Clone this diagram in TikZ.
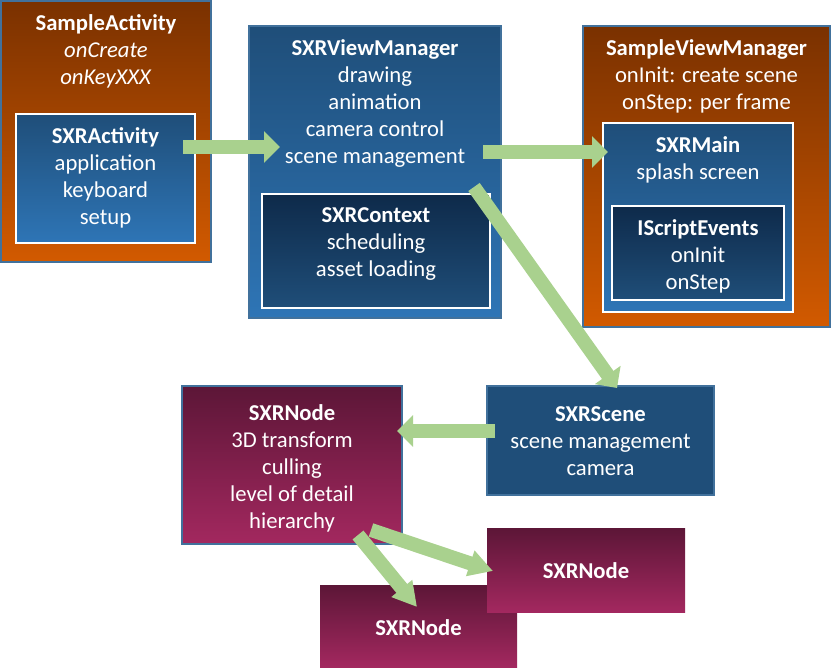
\documentclass[tikz,border=0pt]{standalone}
\usepackage{fontspec}
\setmainfont{Carlito}
\usetikzlibrary{arrows.meta,positioning,fit}
\definecolor{edgeblue}{HTML}{41719C}
\definecolor{arrowgreen}{HTML}{A9D18E}
\definecolor{orangetop}{HTML}{7A3100}
\definecolor{orangebot}{HTML}{D25A00}
\definecolor{bluetop}{HTML}{1F4E79}
\definecolor{bluebot}{HTML}{2E75B6}
\definecolor{navytop}{HTML}{0E2A4A}
\definecolor{navybot}{HTML}{1F4E79}
\definecolor{purpletop}{HTML}{5C1637}
\definecolor{purplebot}{HTML}{A3285F}
\begin{document}
\begin{tikzpicture}[x=.75pt,y=-.75pt,
  box/.style={inner sep=0pt,outer sep=0pt,line width=1.5pt},
  outerbox/.style={box,draw=edgeblue},
  innerbox/.style={box,draw=white},
  orangefill/.style={top color=orangetop,bottom color=orangebot},
  bluefill/.style={top color=bluetop,bottom color=bluebot},
  navyfill/.style={top color=navytop,bottom color=navybot},
  purplefill/.style={top color=purpletop,bottom color=purplebot},
  lbl/.style={text=white,align=center,inner sep=0pt,font=\fontsize{17pt}{20.25pt}\selectfont,
    execute at begin node=\strut},
  bigarrow/.style={draw=arrowgreen,line width=10.5pt,-{Triangle[length=12pt,width=23pt]}},
  longarrow/.style={draw=arrowgreen,line width=10.5pt,-{Triangle[length=18pt,width=19pt]}}]
\useasboundingbox (0,0) rectangle (831,670);
\node[outerbox,orangefill,fit={(1,1) (211,262)}] (sampleact) {};
\node[lbl,below=10.2pt of sampleact.north] (sampleacttxt) {\textbf{SampleActivity}\\\textit{onCreate}\\\textit{onKeyXXX}};
\node[innerbox,bluefill,fit={(16,114) (195,243)}] (sxract) {};
\node[lbl,below=10.2pt of sxract.north] (sxracttxt) {\textbf{SXRActivity}\\application\\keyboard\\setup};
\node[outerbox,bluefill,fit={(249,26) (501,318)}] (viewmgr) {};
\node[lbl,below=10.2pt of viewmgr.north] (viewmgrtxt) {\textbf{SXRViewManager}\\drawing\\animation\\camera control\\scene management};
\node[innerbox,navyfill,fit={(262,194) (490,308)}] (context) {};
\node[lbl,below=10.2pt of context.north] (contexttxt) {\textbf{SXRContext}\\scheduling\\asset loading};
\node[outerbox,orangefill,fit={(583,26) (830,327)}] (sampleview) {};
\node[lbl,below=10.2pt of sampleview.north] (sampleviewtxt) {\textbf{SampleViewManager}\\onInit: create scene\\onStep: per frame};
\node[innerbox,bluefill,fit={(603,123) (793,312)}] (sxrmain) {};
\node[lbl,below=10.2pt of sxrmain.north] (sxrmaintxt) {\textbf{SXRMain}\\splash screen};
\node[innerbox,navyfill,fit={(612,206) (784,300)}] (scriptev) {};
\node[lbl,below=10.2pt of scriptev.north] (scriptevtxt) {\textbf{IScriptEvents}\\onInit\\onStep};
\node[outerbox,fill=bluetop,fit={(487,386) (714,495)}] (scene) {};
\node[lbl,below=15.2pt of scene.north] (scenetxt) {\textbf{SXRScene}\\scene management\\camera};
\node[outerbox,purplefill,fit={(182,386) (402,544)}] (node) {};
\node[lbl,below=13.6pt of node.north] (nodetxt) {\textbf{SXRNode}\\3D transform\\culling\\level of detail\\hierarchy};
\node[box,purplefill,fit={(320,585) (517,667)}] (nodeA) {};
\node[lbl,below=23.8pt of nodeA.north] (nodeAtxt) {\textbf{SXRNode}};
\node[box,purplefill,fit={(487,528) (685,612)}] (nodeB) {};
\node[lbl,below=23.8pt of nodeB.north] (nodeBtxt) {\textbf{SXRNode}};
\draw[bigarrow] ([shift={(-12,33)}]sxract.north east) -- ([shift={(31,121)}]viewmgr.north west);
\draw[bigarrow] ([shift={(-18,126)}]viewmgr.north east) -- ([shift={(5,29)}]sxrmain.north west);
\draw[bigarrow] ([shift={(-27,161)}]viewmgr.north east) -- ([shift={(130,2)}]scene.north west);
\draw[bigarrow] ([shift={(8,45)}]scene.north west) -- ([shift={(-5,45)}]node.north east);
\draw[longarrow] ([shift={(176,-9)}]node.south west) -- ([shift={(97,22)}]nodeA.north west);
\draw[longarrow] ([shift={(189,-14)}]node.south west) -- ([shift={(6,43)}]nodeB.north west);
\end{tikzpicture}
\end{document}
